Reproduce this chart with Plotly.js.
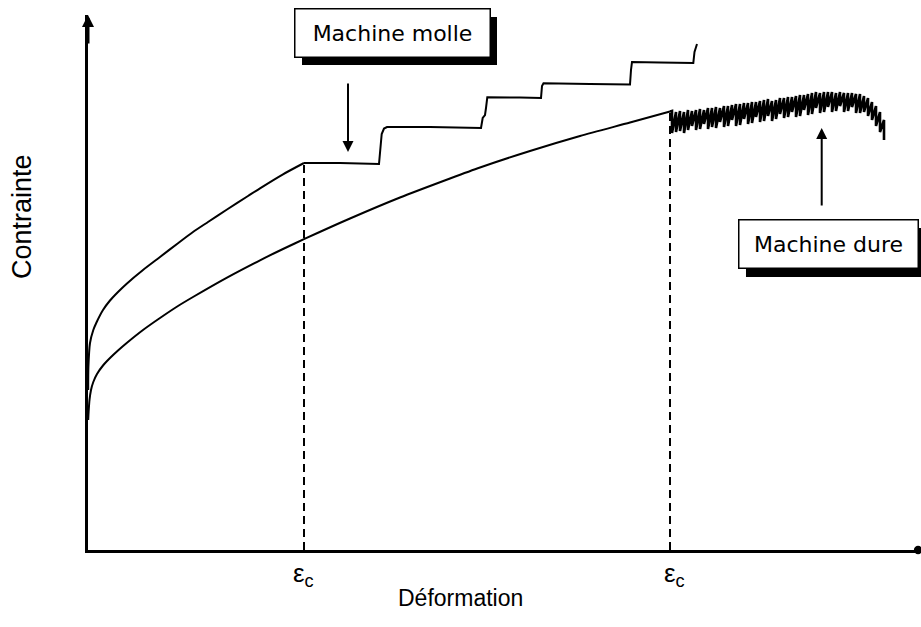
<!DOCTYPE html>
<html>
<head>
<meta charset="utf-8">
<script src="https://cdn.plot.ly/plotly-3.0.1.min.js"></script>
<style>html,body{margin:0;padding:0;background:#fff;}#chart{width:921px;height:627px;}</style>
</head>
<body>
<div id="chart"></div>
<script>
// Strain / stress in arbitrary units (schematic)
// soft machine: smooth hardening up to the critical strain, then stepped curve
var softRiseX = [0.2,0.4,2,5.3,8.7,15,22,30,38.7,55,72,90,105,120,139,160,172,195,216];
var softRiseY = [160,183,207,220,228,240,249.5,258,266.3,280,293,306.8,318,328,340.5,354,361.7,375.7,387];
var softStepX = [216,252,291,292,293.7,296,299,342,393,394.7,397,398,399.3,432,453,454,455.5,502,542,543,544,572,605.3,606.5,609];
var softStepY = [387,387,386,400,416,421.5,423,423,422,432,435,442,452.7,452.5,452,464,466.7,466,465.5,480,488,487.5,487,498,506];

// hard machine: smooth hardening curve
var hardX = [0.2,0.6,1.5,3,5.3,9,15,22,30,38.7,55,72,90,105,139,172,195,217,262,312,362,392,442,492,542,582];
var hardY = [130,138,150,160,168,176,184.5,192,199.5,207,220,232,244,253,272.4,289.7,301,311.3,331.5,352.5,371.5,382.5,399,414,427.5,438.5];

// Serrations on the hard machine curve (tops and bottoms of each load drop)
var serrX = [584,588,592,596,600,604,608,612,616,620,624,628,632,636,640,644,648,652,656,660,664,668,672,676,680,684,688,692,696,700,704,708,712,716,720,724,728,732,736,740,744,748,752,756,760,764,768,772,776,780,784,788,792,796];
var serrTop = [439,438,439,438,440,439,440,441,440,442,442,443,442,444,444,445,446,446,447,447,448,448,449,450,451,449,450,452,452,453,453,454,455,455,456,457,458,457,458,458,458,457,458,457,457,457,456,456,454,452,448,444,438,430];
var serrBottom = [417,418,419,417,420,424,420,421,426,421,423,422,428,423,424,430,424,425,431,426,427,433,428,429,434,429,431,436,432,433,438,433,434,440,435,436,442,437,438,443,438,439,444,438,439,443,437,437,438,434,430,424,418,410];

// Critical strains and the stress reached there
var epsC = [216, 582];
var epsCStress = [387, 438.5];
var epsLabels = ['ε<sub>c</sub>', 'ε<sub>c</sub>'];

var xTitle = 'Déformation';
var yTitle = 'Contrainte';
var softLabel = 'Machine molle';
var hardLabel = 'Machine dure';

// build serrated path: start at end of hard curve, then sawtooth
var sx = [hardX[hardX.length-1]], sy = [hardY[hardY.length-1]];
for (var i = 0; i < serrX.length; i++) {
  sx.push(serrX[i]); sy.push(serrTop[i]);
  sx.push(serrX[i]); sy.push(serrBottom[i]);
}

var traces = [
  {x: hardX, y: hardY, mode: 'lines', line: {color: '#000', width: 2, shape: 'spline', smoothing: 0.7}, hoverinfo: 'skip'},
  {x: softRiseX, y: softRiseY, mode: 'lines', line: {color: '#000', width: 2, shape: 'spline', smoothing: 0.7}, hoverinfo: 'skip'},
  {x: softStepX, y: softStepY, mode: 'lines', line: {color: '#000', width: 2}, hoverinfo: 'skip'},
  {x: sx, y: sy, mode: 'lines', line: {color: '#000', width: 2.6}, hoverinfo: 'skip'}
];
for (var k = 0; k < epsC.length; k++) {
  traces.push({x: [epsC[k], epsC[k]], y: [0, epsCStress[k]], mode: 'lines',
    line: {color: '#000', width: 2, dash: '8px,5px'}, hoverinfo: 'skip'});
}

var annotations = [];
// axis arrow heads
annotations.push({xref: 'paper', yref: 'paper', x: 0, y: 1, ax: 0, ay: 30, text: '', showarrow: true,
  arrowhead: 2, arrowsize: 0.8, arrowwidth: 3, arrowcolor: '#000'});
annotations.push({xref: 'paper', yref: 'paper', x: 0.9965, y: 0, ax: -4, ay: 0, text: '', showarrow: true,
  arrowhead: 6, arrowsize: 0.7, arrowwidth: 3, arrowcolor: '#000'});
// epsilon labels
for (var k = 0; k < epsC.length; k++) {
  annotations.push({x: epsC[k], y: 0, xref: 'x', yref: 'y', yanchor: 'top', yshift: -6, xshift: k === 0 ? -1 : 4,
    text: epsLabels[k], showarrow: false, font: {family: 'Liberation Sans', size: 26, color: '#000'}});
}
// axis titles
annotations.push({x: 372, y: 0, xref: 'x', yref: 'y', yshift: -48, text: xTitle, showarrow: false,
  font: {family: 'Liberation Sans', size: 23, color: '#000'}});
annotations.push({x: 0, xshift: -66, xanchor: 'center', y: 333, xref: 'paper', yref: 'y', textangle: -90, text: yTitle, showarrow: false,
  font: {family: 'Liberation Sans', size: 27, color: '#000'}});
// label boxes
function box(xc, yc, txt, w) {
  annotations.push({x: xc, y: yc, xref: 'x', yref: 'y', text: txt, showarrow: false,
    font: {family: 'DejaVu Sans', size: 22, color: '#000'},
    width: w, height: 29, borderpad: 9, bgcolor: '#fff', bordercolor: '#000', borderwidth: 1.5});
}
box(304, 517.5, softLabel, 176);
box(740, 306, hardLabel, 160);
// drop shadows behind the boxes (paper coordinates)
var shapes = [
  {type: 'rect', xref: 'paper', yref: 'paper', x0: 0.2569, x1: 0.4910, y0: 0.9065, y1: 0.9963,
    fillcolor: '#000', line: {width: 0}, layer: 'above'},
  {type: 'rect', xref: 'paper', yref: 'paper', x0: 0.7899, x1: 1.01, y0: 0.5103, y1: 0.6019,
    fillcolor: '#000', line: {width: 0}, layer: 'above'}
];
// pointer arrows
annotations.push({x: 260, y: 398, xref: 'x', yref: 'y', ax: 0, ay: -70, text: '', showarrow: true,
  arrowhead: 2, arrowsize: 1.1, arrowwidth: 2, arrowcolor: '#000'});
annotations.push({x: 733.7, y: 422, xref: 'x', yref: 'y', ax: 0, ay: 79, text: '', showarrow: true,
  arrowhead: 2, arrowsize: 1.1, arrowwidth: 2, arrowcolor: '#000'});

var layout = {
  width: 921, height: 627,
  margin: {l: 88, r: 0, t: 15, b: 77},
  paper_bgcolor: '#fff', plot_bgcolor: '#fff',
  showlegend: false,
  xaxis: {range: [0, 833], showgrid: false, zeroline: false, showticklabels: false, ticks: '',
    showline: true, linewidth: 3, linecolor: '#000', fixedrange: true},
  yaxis: {range: [0, 535], showgrid: false, zeroline: false, showticklabels: false, ticks: '',
    showline: true, linewidth: 3, linecolor: '#000', fixedrange: true},
  shapes: shapes,
  annotations: annotations
};
Plotly.newPlot('chart', traces, layout, {staticPlot: true, displayModeBar: false});
</script>
</body>
</html>
